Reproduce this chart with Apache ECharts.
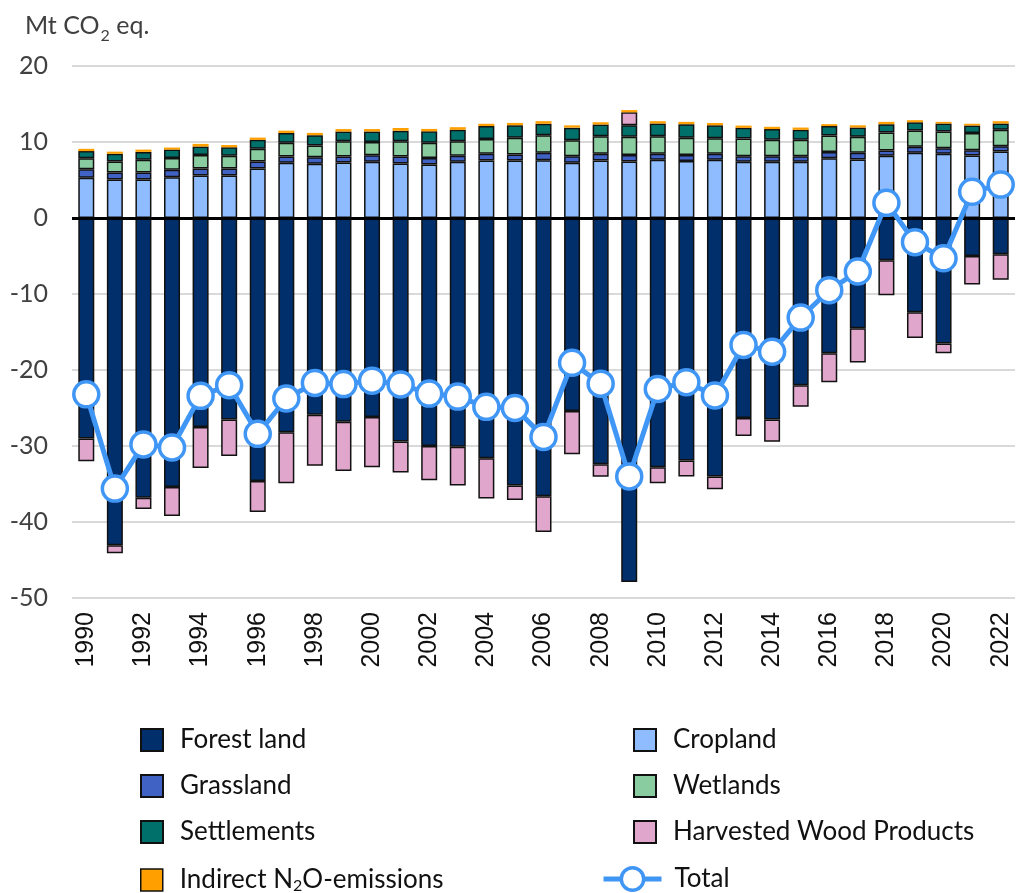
<!DOCTYPE html>
<html>
<head>
<meta charset="utf-8">
<script src="https://cdn.jsdelivr.net/npm/echarts@6/dist/echarts.min.js"></script>
<style>
  html, body { margin: 0; padding: 0; background: #fff; }
  #chart { width: 1016px; height: 893px; }
</style>
</head>
<body>
<div id="chart"></div>
<script>
// 年份
const years = ['1990', '1991', '1992', '1993', '1994', '1995', '1996', '1997', '1998', '1999',
  '2000', '2001', '2002', '2003', '2004', '2005', '2006', '2007', '2008', '2009',
  '2010', '2011', '2012', '2013', '2014', '2015', '2016', '2017', '2018', '2019',
  '2020', '2021', '2022']

// Mt CO2 eq.
const forestLand = [-29.0, -43.05, -36.8, -35.4, -27.5, -26.5, -34.6, -28.2, -25.9, -26.8,
  -26.2, -29.4, -30.0, -30.1, -31.6, -35.2, -36.6, -25.4, -32.4, -47.9,
  -32.8, -31.9, -34.0, -26.3, -26.5, -22.0, -17.8, -14.5, -5.55, -12.4,
  -16.5, -5.0, -4.76]
const cropland = [5.3, 5.05, 5.05, 5.35, 5.6, 5.6, 6.5, 7.26, 7.13, 7.3,
  7.39, 7.17, 7.04, 7.39, 7.56, 7.56, 7.6, 7.26, 7.56, 7.43,
  7.65, 7.5, 7.65, 7.39, 7.39, 7.39, 7.87, 7.7, 8.18, 8.57,
  8.44, 8.22, 8.75]
const grassland = [1.1, 0.95, 0.95, 1.0, 0.9, 0.9, 0.93, 0.83, 0.87, 0.8,
  0.87, 0.92, 0.86, 0.81, 0.88, 0.8, 0.97, 0.87, 0.88, 0.87,
  0.79, 0.8, 0.79, 0.74, 0.74, 0.74, 0.83, 0.87, 0.7, 0.79,
  0.75, 0.68, 0.7]
const wetlands = [1.45, 1.45, 1.65, 1.55, 1.8, 1.7, 1.67, 1.8, 1.54, 2.0,
  1.74, 2.0, 2.0, 1.9, 1.96, 2.2, 2.33, 2.1, 2.33, 2.4,
  2.33, 2.25, 2.06, 2.33, 2.17, 2.17, 2.16, 2.11, 2.37, 2.14,
  2.19, 2.3, 2.15]
const settlements = [0.95, 1.0, 1.05, 1.1, 1.1, 1.1, 1.18, 1.3, 1.36, 1.28,
  1.38, 1.4, 1.5, 1.5, 1.7, 1.65, 1.5, 1.66, 1.53, 1.5,
  1.66, 1.8, 1.7, 1.4, 1.4, 1.3, 1.24, 1.22, 1.1, 1.1,
  1.05, 0.97, 0.83]
const hwp = [-3.0, -1.05, -1.5, -3.8, -5.4, -4.8, -4.1, -6.7, -6.7, -6.5,
  -6.6, -4.1, -4.5, -5.1, -5.3, -1.9, -4.7, -5.7, -1.65, 1.7,
  -2.1, -2.1, -1.7, -2.4, -2.95, -2.85, -3.8, -4.5, -4.6, -3.4,
  -1.3, -3.75, -3.35]
const indirectN2O = [0.3, 0.28, 0.3, 0.27, 0.35, 0.3, 0.3, 0.3, 0.3, 0.32,
  0.32, 0.35, 0.32, 0.35, 0.3, 0.3, 0.34, 0.3, 0.3, 0.3,
  0.31, 0.3, 0.3, 0.3, 0.3, 0.3, 0.25, 0.3, 0.3, 0.27,
  0.22, 0.23, 0.31]
const total = [-23.2, -35.6, -29.8, -30.2, -23.4, -22.0, -28.4, -23.75, -21.7, -21.85,
  -21.4, -21.9, -23.1, -23.5, -24.85, -25.0, -28.8, -19.05, -21.8, -34.0,
  -22.5, -21.6, -23.35, -16.7, -17.6, -13.1, -9.5, -7.04, 2.0, -3.18,
  -5.3, 3.45, 4.4]

const yTicks = { min: -50, max: 20, interval: 10 }

const font = 'Lato'
const lineBlue = '#4096f5'

// 堆叠柱子的公共配置
function barSeries (name, data, color, border) {
  return {
    name: name,
    type: 'bar',
    stack: 'lulucf',
    barWidth: 16,
    data: data,
    itemStyle: {
      color: color,
      borderColor: '#111',
      borderWidth: border
    }
  }
}

const chart = echarts.init(document.getElementById('chart'))

const legendText = {
  fontFamily: font,
  fontSize: 26,
  lineHeight: 24,
  color: '#111',
  padding: [0, 0, 0, 12],
  rich: {
    a: { fontFamily: font, fontSize: 26, lineHeight: 24, color: '#111' },
    s: { fontFamily: font, fontSize: 16, lineHeight: 14, color: '#111', padding: [12, 0, 0, 0] }
  }
}

// 图例：按列摆放
function squareLegend (left, top, names) {
  return {
    orient: 'vertical',
    left: left,
    top: top,
    padding: 0,
    icon: 'rect',
    itemWidth: 22,
    itemHeight: 22,
    itemGap: 20,
    data: names,
    formatter: function (name) {
      if (name === 'Indirect N2O-emissions') return '{a|Indirect N}{s|2}{a|O-emissions}'
      return name
    },
    textStyle: legendText
  }
}

chart.setOption({
  animation: false,
  title: {
    left: 20,
    top: 6,
    text: '{a|Mt CO}{s|2}{a| eq.}',
    textStyle: {
      fontWeight: 'normal',
      rich: {
        a: { fontFamily: font, fontSize: 25, lineHeight: 30, fontWeight: 'normal', color: '#404040' },
        s: { fontFamily: font, fontSize: 16, lineHeight: 16, fontWeight: 'normal', color: '#404040', padding: [20, 0, 0, 1] }
      }
    }
  },
  grid: { left: 72, right: 1, top: 66, bottom: 295 },
  legend: [
    squareLegend(140, 727, ['Forest land', 'Grassland', 'Settlements']),
    squareLegend(140, 866, [{
      name: 'Indirect N2O-emissions',
      itemStyle: { borderColor: '#111', borderWidth: 1.5 }
    }]),
    squareLegend(633, 727, ['Cropland', 'Wetlands', 'Harvested Wood Products']),
    {
      left: 601,
      top: 866,
      padding: 0,
      itemWidth: 58,
      itemHeight: 28,
      data: [{
        name: 'Total',
        lineStyle: { width: 5 },
        itemStyle: { borderWidth: 3.5 }
      }],
      textStyle: Object.assign({}, legendText, { padding: [0, 0, 0, 8] })
    }
  ],
  xAxis: {
    type: 'category',
    data: years,
    axisLine: { show: false },
    axisTick: { show: false },
    axisLabel: {
      interval: 1,
      rotate: 90,
      margin: 14,
      fontFamily: 'Liberation Sans',
      fontSize: 25,
      color: '#111'
    }
  },
  yAxis: {
    type: 'value',
    min: yTicks.min,
    max: yTicks.max,
    interval: yTicks.interval,
    axisLine: { show: false },
    axisTick: { show: false },
    axisLabel: {
      margin: 24,
      fontFamily: font,
      fontSize: 25,
      color: '#404040'
    },
    splitLine: { lineStyle: { color: '#d9d9d9', width: 2 } }
  },
  series: [
    barSeries('Forest land', forestLand, '#002f6c', 1.5),
    barSeries('Cropland', cropland, '#8fbcff', 1.5),
    barSeries('Grassland', grassland, '#3f62c4', 1.5),
    barSeries('Wetlands', wetlands, '#88cca0', 1.5),
    barSeries('Settlements', settlements, '#00706a', 1.5),
    barSeries('Harvested Wood Products', hwp, '#e0a6cc', 1.5),
    Object.assign(barSeries('Indirect N2O-emissions', indirectN2O, '#ffa000', 0), {
      // 零线
      markLine: {
        silent: true,
        symbol: 'none',
        label: { show: false },
        lineStyle: { color: '#000', width: 3, type: 'solid' },
        data: [{ yAxis: 0 }]
      }
    }),
    {
      name: 'Total',
      type: 'line',
      data: total,
      z: 5,
      symbol: 'circle',
      symbolSize: 25,
      showAllSymbol: true,
      lineStyle: { color: lineBlue, width: 5 },
      itemStyle: { color: '#fff', borderColor: lineBlue, borderWidth: 3.5 }
    }
  ]
})
</script>
</body>
</html>
